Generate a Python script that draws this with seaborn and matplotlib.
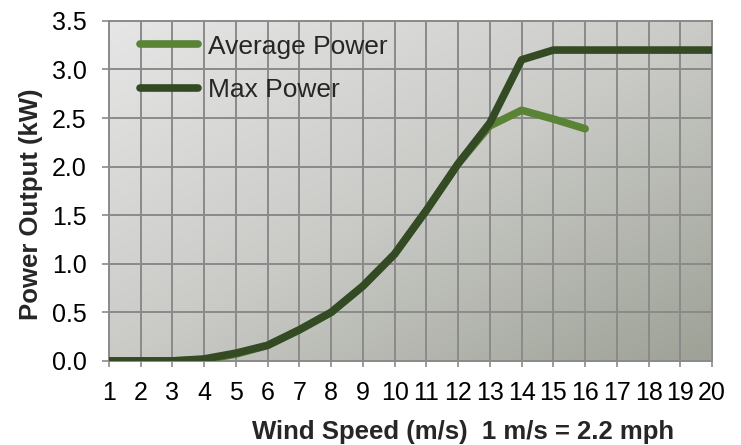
# Wind turbine power curve
import numpy as np
import pandas as pd
import seaborn as sns
import matplotlib.pyplot as plt
from matplotlib.colors import LinearSegmentedColormap

# data
wind_speed = list(range(1, 21))
max_power = [0.0, 0.0, 0.0, 0.02, 0.08, 0.16, 0.32, 0.5, 0.77, 1.1,
             1.55, 2.03, 2.45, 3.1, 3.2, 3.2, 3.2, 3.2, 3.2, 3.2]
avg_speed = list(range(1, 17))
avg_power = [0.0, 0.0, 0.0, 0.01, 0.07, 0.16, 0.32, 0.5, 0.77, 1.1,
             1.55, 2.03, 2.42, 2.58, 2.49, 2.39]

df = pd.concat([
    pd.DataFrame({'speed': avg_speed, 'power': avg_power, 'series': 'Average Power'}),
    pd.DataFrame({'speed': wind_speed, 'power': max_power, 'series': 'Max Power'}),
])

sns.set_style('white')
plt.rcParams['font.family'] = ['Liberation Sans', 'DejaVu Sans']

fig = plt.figure(figsize=(7.41, 4.45), dpi=100)
ax = fig.add_axes([0.147, 0.189, 0.814, 0.764])

# gradient background (light top-left -> darker bottom-right)
gx, gy = np.meshgrid(np.linspace(0, 1, 200), np.linspace(0, 1, 200))
grad = (gx + gy) / 2
cmap = LinearSegmentedColormap.from_list('bg', ['#e6e6e6', '#cacbc7', '#9da196'])
ax.imshow(grad, cmap=cmap, extent=[1, 20, 0, 3.5], aspect='auto', zorder=0,
          interpolation='bicubic')

sns.lineplot(data=df, x='speed', y='power', hue='series',
             palette={'Average Power': '#5b8335', 'Max Power': '#344a25'},
             linewidth=5.5, ax=ax, zorder=3, solid_capstyle='round',
             solid_joinstyle='round')

ax.set_xlim(1, 20)
ax.set_ylim(0, 3.5)
ax.set_xticks(wind_speed)
ax.set_yticks(np.arange(0, 3.51, 0.5))
ax.set_yticklabels([f'{v:.1f}' for v in np.arange(0, 3.51, 0.5)])
ax.grid(True, color='#8a8a8a', linewidth=1.4, zorder=1)
ax.set_axisbelow(True)
for s in ax.spines.values():
    s.set_color('#8a8a8a')
    s.set_linewidth(1.4)
ax.tick_params(axis='both', labelsize=18, colors='#8a8a8a', labelcolor='black',
               width=1.2, direction='out', bottom=True, left=True)
ax.tick_params(axis='x', length=4.5, pad=10)
ax.tick_params(axis='y', length=5, pad=11)

ax.set_xlabel('Wind Speed (m/s)  1 m/s = 2.2 mph', fontsize=18.5, fontweight='bold')
ax.set_ylabel('Power Output (kW)', fontsize=18.5, fontweight='bold')
ax.xaxis.set_label_coords(0.587, -0.175)
ax.yaxis.set_label_coords(-0.109, 0.46)

leg = ax.legend(loc='upper left', frameon=False, fontsize=19, handlelength=2.2,
                borderaxespad=0, borderpad=0, labelspacing=0.75, handletextpad=0.35,
                bbox_to_anchor=(0.052, 0.96))
for line in leg.get_lines():
    line.set_linewidth(5.5)
    line.set_solid_capstyle('round')

fig.savefig('out.png', dpi=100)
